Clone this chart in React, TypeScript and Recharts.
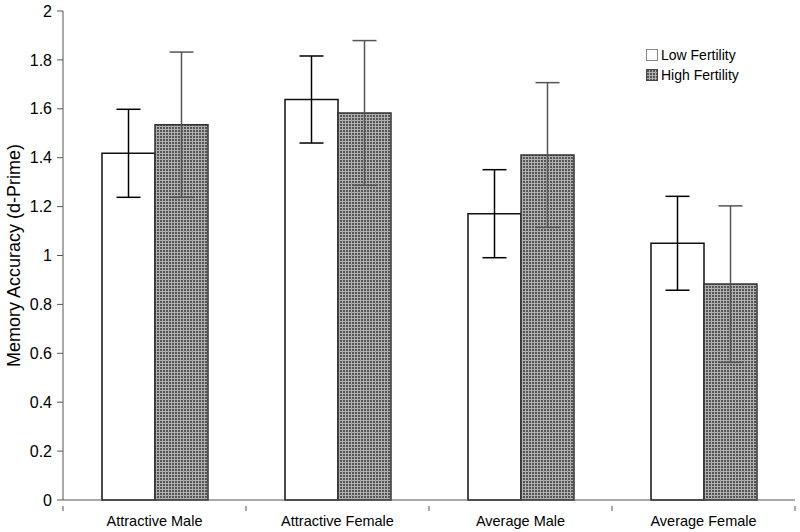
import React from "react";
import { BarChart, Bar, XAxis, YAxis, ErrorBar } from "recharts";

const categories = ["Attractive Male", "Attractive Female", "Average Male", "Average Female"];
const lowFertility = [1.418, 1.638, 1.171, 1.05];
const lowFertilityErr = [0.18, 0.178, 0.18, 0.192];
const highFertility = [1.535, 1.583, 1.411, 0.883];
const highFertilityErr = [0.297, 0.296, 0.296, 0.32];
const yTicks = [0, 0.2, 0.4, 0.6, 0.8, 1, 1.2, 1.4, 1.6, 1.8, 2];
const seriesNames = ["Low Fertility", "High Fertility"];

const data = categories.map((c, i) => ({
  name: c,
  low: lowFertility[i],
  lowErr: lowFertilityErr[i],
  high: highFertility[i],
  highErr: highFertilityErr[i],
}));

const font = "Liberation Sans, Arial, sans-serif";

const CategoryTick = (props: any) => {
  const { x, y, payload, index, visibleTicksCount } = props;
  const half = payload && payload.offset ? payload.offset : 0;
  const isLast = index === (visibleTicksCount ?? categories.length) - 1;
  return (
    <g>
      <line x1={x - half} x2={x - half} y1={y - 8} y2={y - 3} stroke="#555" />
      {isLast ? <line x1={x + half} x2={x + half} y1={y - 8} y2={y - 3} stroke="#555" /> : null}
      <text x={x} y={y} dy={12} textAnchor="middle" fill="#000" fontSize={14.5} fontFamily={font}>
        {payload.value}
      </text>
    </g>
  );
};

const LegendBox = () => (
  <div style={{ position: "absolute", left: 646, top: 45, fontFamily: font, fontSize: 14, color: "#000", lineHeight: "20px" }}>
    <div style={{ display: "flex", alignItems: "center" }}>
      <span style={{ display: "inline-block", width: 10, height: 10, border: "1px solid #888", background: "#fff", marginRight: 3 }} />
      {seriesNames[0]}
    </div>
    <div style={{ display: "flex", alignItems: "center" }}>
      <svg width={12} height={12} style={{ marginRight: 3 }}>
        <rect x={0.5} y={0.5} width={11} height={11} fill="url(#grid)" stroke="#444" />
      </svg>
      {seriesNames[1]}
    </div>
  </div>
);

export default function App() {
  return (
    <div style={{ position: "absolute", left: 0, top: 0, width: 800, height: 532, background: "#fff" }}>
      <BarChart
        width={800}
        height={532}
        data={data}
        margin={{ top: 11, right: 5, bottom: 2, left: 0 }}
        barGap={0}
      >
        <defs>
          <pattern id="grid" width={3} height={3} patternUnits="userSpaceOnUse">
            <rect x={0} y={0} width={3} height={3} fill="#555" />
            <rect x={0} y={0} width={3} height={1} fill="#b0b0b0" />
            <rect x={0} y={0} width={1} height={3} fill="#b0b0b0" />
          </pattern>
        </defs>
        <XAxis
          dataKey="name"
          height={30}
          tickLine={false}
          axisLine={{ stroke: "#555" }}
          tick={<CategoryTick />}
          tickMargin={8}
          interval={0}
        />
        <YAxis
          width={63}
          domain={[0, 2]}
          ticks={yTicks}
          tickFormatter={(v: number) => String(+v.toFixed(1))}
          axisLine={{ stroke: "#555" }}
          tickLine={{ stroke: "#555" }}
          tickSize={6}
          tickMargin={5}
          tick={{ fill: "#000", fontSize: 16, fontFamily: font }}
          label={{
            value: "Memory Accuracy (d-Prime)",
            angle: -90,
            position: "insideLeft",
            offset: 14,
            style: { textAnchor: "middle", fill: "#000", fontSize: 18, fontFamily: font },
          }}
        />
        <Bar dataKey="low" barSize={53} fill="#fff" stroke="#111" strokeWidth={1.5} isAnimationActive={false} name={seriesNames[0]}>
          <ErrorBar dataKey="lowErr" width={12} stroke="#000" strokeWidth={1.5} />
        </Bar>
        <Bar dataKey="high" barSize={53} fill="url(#grid)" stroke="#333" strokeWidth={1.5} isAnimationActive={false} name={seriesNames[1]}>
          <ErrorBar dataKey="highErr" width={12} stroke="#555" strokeWidth={1.5} />
        </Bar>
      </BarChart>
      <LegendBox />
    </div>
  );
}
